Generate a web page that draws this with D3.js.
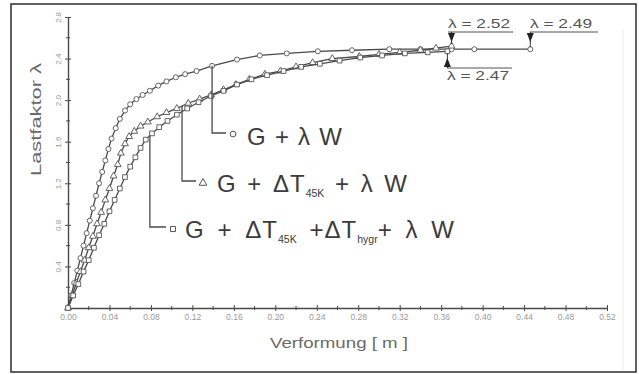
<!DOCTYPE html>
<html>
<head>
<meta charset="utf-8">
<script src="https://cdn.jsdelivr.net/npm/d3@7"></script>
<style>
  html, body { margin: 0; padding: 0; background: #fff; }
  svg { display: block; font-family: "Liberation Sans", Arial, sans-serif; }
</style>
</head>
<body>
<svg id="chart" width="639" height="374"></svg>
<script>
// Load–deflection curves: deformation [m] vs. load factor λ
const seriesNames = ["G + λ W", "G + ΔT45K + λ W", "G + ΔT45K + ΔThygr + λ W"];

const defG = [0, 0.003, 0.006, 0.009, 0.012, 0.015, 0.018, 0.021, 0.024, 0.027, 0.030, 0.033, 0.036, 0.039, 0.042, 0.046, 0.050, 0.055, 0.060, 0.066, 0.072, 0.079, 0.087, 0.095, 0.104, 0.113, 0.124, 0.139, 0.163, 0.185, 0.211, 0.241, 0.274, 0.310, 0.340, 0.370, 0.392, 0.446];
const lamG = [0, 0.12, 0.24, 0.36, 0.48, 0.60, 0.72, 0.84, 0.96, 1.08, 1.20, 1.31, 1.42, 1.53, 1.63, 1.73, 1.82, 1.90, 1.96, 2.01, 2.05, 2.09, 2.14, 2.18, 2.22, 2.25, 2.28, 2.33, 2.39, 2.43, 2.45, 2.47, 2.48, 2.49, 2.49, 2.49, 2.49, 2.49];

const defT = [0, 0.004, 0.008, 0.012, 0.016, 0.020, 0.024, 0.028, 0.032, 0.036, 0.040, 0.044, 0.048, 0.051, 0.055, 0.059, 0.064, 0.070, 0.077, 0.086, 0.095, 0.105, 0.116, 0.127, 0.138, 0.150, 0.162, 0.175, 0.190, 0.205, 0.220, 0.236, 0.255, 0.281, 0.300, 0.320, 0.340, 0.355, 0.370];
const lamT = [0, 0.12, 0.24, 0.35, 0.46, 0.58, 0.69, 0.81, 0.92, 1.04, 1.15, 1.27, 1.38, 1.49, 1.58, 1.65, 1.70, 1.75, 1.79, 1.84, 1.88, 1.92, 1.97, 2.01, 2.05, 2.10, 2.15, 2.20, 2.25, 2.28, 2.32, 2.36, 2.40, 2.42, 2.44, 2.46, 2.48, 2.50, 2.52];

const defH = [0, 0.005, 0.010, 0.015, 0.020, 0.025, 0.030, 0.035, 0.040, 0.045, 0.050, 0.055, 0.060, 0.065, 0.070, 0.075, 0.081, 0.088, 0.096, 0.105, 0.115, 0.126, 0.138, 0.150, 0.163, 0.177, 0.192, 0.208, 0.225, 0.243, 0.262, 0.282, 0.303, 0.325, 0.347, 0.366];
const lamH = [0, 0.12, 0.23, 0.35, 0.46, 0.58, 0.70, 0.81, 0.93, 1.04, 1.15, 1.26, 1.36, 1.45, 1.54, 1.62, 1.68, 1.74, 1.80, 1.86, 1.92, 1.98, 2.04, 2.09, 2.15, 2.20, 2.24, 2.28, 2.32, 2.35, 2.38, 2.41, 2.43, 2.45, 2.46, 2.47];

const xTicks = [0.00, 0.04, 0.08, 0.12, 0.16, 0.20, 0.24, 0.28, 0.32, 0.36, 0.40, 0.44, 0.48, 0.52];
const yTicks = [0.0, 0.4, 0.8, 1.2, 1.6, 2.0, 2.4, 2.8];
const yMinor = [0.2, 0.6, 1.0, 1.4, 1.8, 2.2, 2.6];
const xMinor = [0.02, 0.06, 0.10, 0.14, 0.18, 0.22, 0.26, 0.30, 0.34, 0.38, 0.42, 0.46, 0.50];

// where each legend leader leaves its curve (deformation, m)
const leaderAt = [0.139, 0.110, 0.079];

const svg = d3.select("#chart");
const ink = "#4a4a4a";
const tickInk = "#9a9a9a";

const x = d3.scaleLinear().domain([0, 0.52]).range([68, 607]);
const y = d3.scaleLinear().domain([0, 2.8]).range([308, 17]);

// frame
svg.append("rect").attr("x", 11).attr("y", 4).attr("width", 625).attr("height", 368)
  .attr("fill", "none").attr("stroke", "#3a3a3a").attr("stroke-width", 1.6);
svg.append("line").attr("x1", 623).attr("x2", 623).attr("y1", 30).attr("y2", 370)
  .attr("stroke", "#ececec").attr("stroke-width", 1);

// y axis
const gy = svg.append("g").attr("transform", `translate(${x(0)},0)`)
  .call(d3.axisLeft(y).tickValues(yTicks).tickSizeInner(3).tickSizeOuter(0)
    .tickFormat(d => d === 0 ? "" : d3.format(".1f")(d)));
gy.select(".domain").attr("stroke", ink).attr("stroke-width", 1.4);
gy.selectAll(".tick line").attr("stroke", ink).attr("x2", 3).attr("x1", -3);
gy.selectAll(".tick text")
  .attr("fill", tickInk).attr("font-size", 8).attr("x", 0)
  .attr("text-anchor", "middle")
  .attr("transform", "translate(-10,0) rotate(-90)")
  .attr("dy", "0.32em");
svg.append("g").selectAll("line").data(yMinor).join("line")
  .attr("x1", x(0) - 2).attr("x2", x(0) + 2).attr("y1", d => y(d)).attr("y2", d => y(d))
  .attr("stroke", ink);

// x axis
const gx = svg.append("g").attr("transform", `translate(0,${y(0)})`)
  .call(d3.axisBottom(x).tickValues(xTicks).tickSizeInner(3).tickSizeOuter(0)
    .tickFormat(d3.format(".2f")));
gx.select(".domain").attr("stroke", ink).attr("stroke-width", 1.4);
gx.selectAll(".tick line").attr("stroke", ink).attr("y1", -3).attr("y2", 3);
gx.selectAll(".tick text").attr("fill", tickInk).attr("font-size", 8.5).attr("y", 6);
svg.append("g").selectAll("line").data(xMinor).join("line")
  .attr("x1", d => x(d)).attr("x2", d => x(d)).attr("y1", y(0) - 2).attr("y2", y(0) + 2)
  .attr("stroke", ink);

// axis titles
svg.append("text").attr("transform", `translate(41,${(63 + 176) / 2}) rotate(-90)`)
  .attr("text-anchor", "middle").attr("font-size", 14).attr("fill", "#6a6a6a")
  .attr("textLength", 113).attr("lengthAdjust", "spacingAndGlyphs")
  .text("Lastfaktor λ");
svg.append("text").attr("x", 339).attr("y", 348)
  .attr("text-anchor", "middle").attr("font-size", 15).attr("fill", "#6a6a6a")
  .attr("textLength", 138).attr("lengthAdjust", "spacingAndGlyphs")
  .text("Verformung [ m ]");

// curves
const series = [
  { d: defG, l: lamG, sym: d3.symbolCircle, size: 20 },
  { d: defT, l: lamT, sym: d3.symbolTriangle, size: 20 },
  { d: defH, l: lamH, sym: d3.symbolSquare, size: 22 }
];
const line = d3.line().x(p => x(p[0])).y(p => y(p[1]));
series.forEach(s => {
  const pts = s.d.map((v, i) => [v, s.l[i]]);
  svg.append("path").datum(pts).attr("d", line)
    .attr("fill", "none").attr("stroke", ink).attr("stroke-width", 1.3);
  svg.append("g").selectAll("path").data(pts).join("path")
    .attr("transform", p => `translate(${x(p[0])},${y(p[1])})`)
    .attr("d", d3.symbol(s.sym, s.size))
    .attr("fill", "#fff").attr("stroke", "#555").attr("stroke-width", 0.9);
});

// legend with leader lines
const legendRows = [
  { ly: 133, mx: 233, my: 134, tx: 247, ty: 145, len: 96 },
  { ly: 181, mx: 203, my: 183, tx: 217, ty: 192, len: 191 },
  { ly: 227, mx: 173, my: 229, tx: 185, ty: 238, len: 270 }
];
legendRows.forEach((r, i) => {
  const s = series[i];
  // λ on the curve at the leader position
  const bis = d3.bisector(v => v).left(s.d, leaderAt[i]);
  const t = (leaderAt[i] - s.d[bis - 1]) / (s.d[bis] - s.d[bis - 1]);
  const lam = s.l[bis - 1] + t * (s.l[bis] - s.l[bis - 1]);
  svg.append("path")
    .attr("d", `M${x(leaderAt[i])},${y(lam)}V${r.ly}H${r.mx - 7}`)
    .attr("fill", "none").attr("stroke", ink).attr("stroke-width", 1.3);
  svg.append("path").attr("transform", `translate(${r.mx},${r.my})`)
    .attr("d", d3.symbol(s.sym, 26))
    .attr("fill", "#fff").attr("stroke", "#555").attr("stroke-width", 1);
});
const lg = svg.append("g").attr("fill", "#3c3c3c").attr("font-size", 24);
function legendText(r, parts) {
  const t = lg.append("text").attr("x", r.tx).attr("y", r.ty);
  let spaces = 0;
  parts.forEach(p => {
    const sp = t.append("tspan").text(p[0]);
    spaces += (p[0].match(/ /g) || []).length;
    if (p[1]) sp.attr("font-size", 10.5).attr("dy", 5).attr("letter-spacing", 0);
    else {
      sp.attr("letter-spacing", 1);
      if (p[2]) sp.attr("dy", -5);
    }
  });
  // widen word gaps so the row spans its target width
  const natural = t.node().getComputedTextLength();
  if (spaces > 0) t.attr("word-spacing", Math.max(0, (r.len - natural) / spaces));
}
legendText(legendRows[0], [["G + λ W"]]);
legendText(legendRows[1], [["G + ΔT"], ["45K", true], [" + λ W", false, true]]);
legendText(legendRows[2], [["G + ΔT"], ["45K", true], [" +ΔT", false, true], ["hygr", true], ["+ λ W", false, true]]);

// ultimate load annotations
const ultimate = [
  { m: 0.370, lam: 2.52, side: "top", x0: 448, x1: 513, uy: 32 },
  { m: 0.446, lam: 2.49, side: "top", x0: 530, x1: 598, uy: 32 },
  { m: 0.366, lam: 2.47, side: "bottom", x0: 447, x1: 512, uy: 68 }
];
const ann = svg.append("g");
ultimate.forEach(a => {
  const px = x(a.m), py = y(a.lam);
  ann.append("line").attr("x1", a.x0).attr("x2", a.x1).attr("y1", a.uy).attr("y2", a.uy)
    .attr("stroke", "#555").attr("stroke-width", 1.2);
  const tip = a.side === "top" ? py - 2 : py + 2;
  ann.append("line").attr("x1", px).attr("x2", px).attr("y1", a.uy).attr("y2", tip)
    .attr("stroke", "#333").attr("stroke-width", 1);
  const b = a.side === "top" ? a.uy + 1 : a.uy - 1;
  const h = a.side === "top" ? 9 : -9;
  ann.append("path").attr("d", `M${px - 3.5},${b}L${px + 3.5},${b}L${px},${b + h}Z`)
    .attr("fill", "#222");
  ann.append("text")
    .attr("x", a.x0).attr("y", a.side === "top" ? a.uy - 4 : a.uy + 12)
    .attr("font-size", 13).attr("fill", "#555")
    .attr("textLength", 62).attr("lengthAdjust", "spacingAndGlyphs")
    .text(`λ = ${a.lam.toFixed(2)}`);
});
</script>
</body>
</html>
